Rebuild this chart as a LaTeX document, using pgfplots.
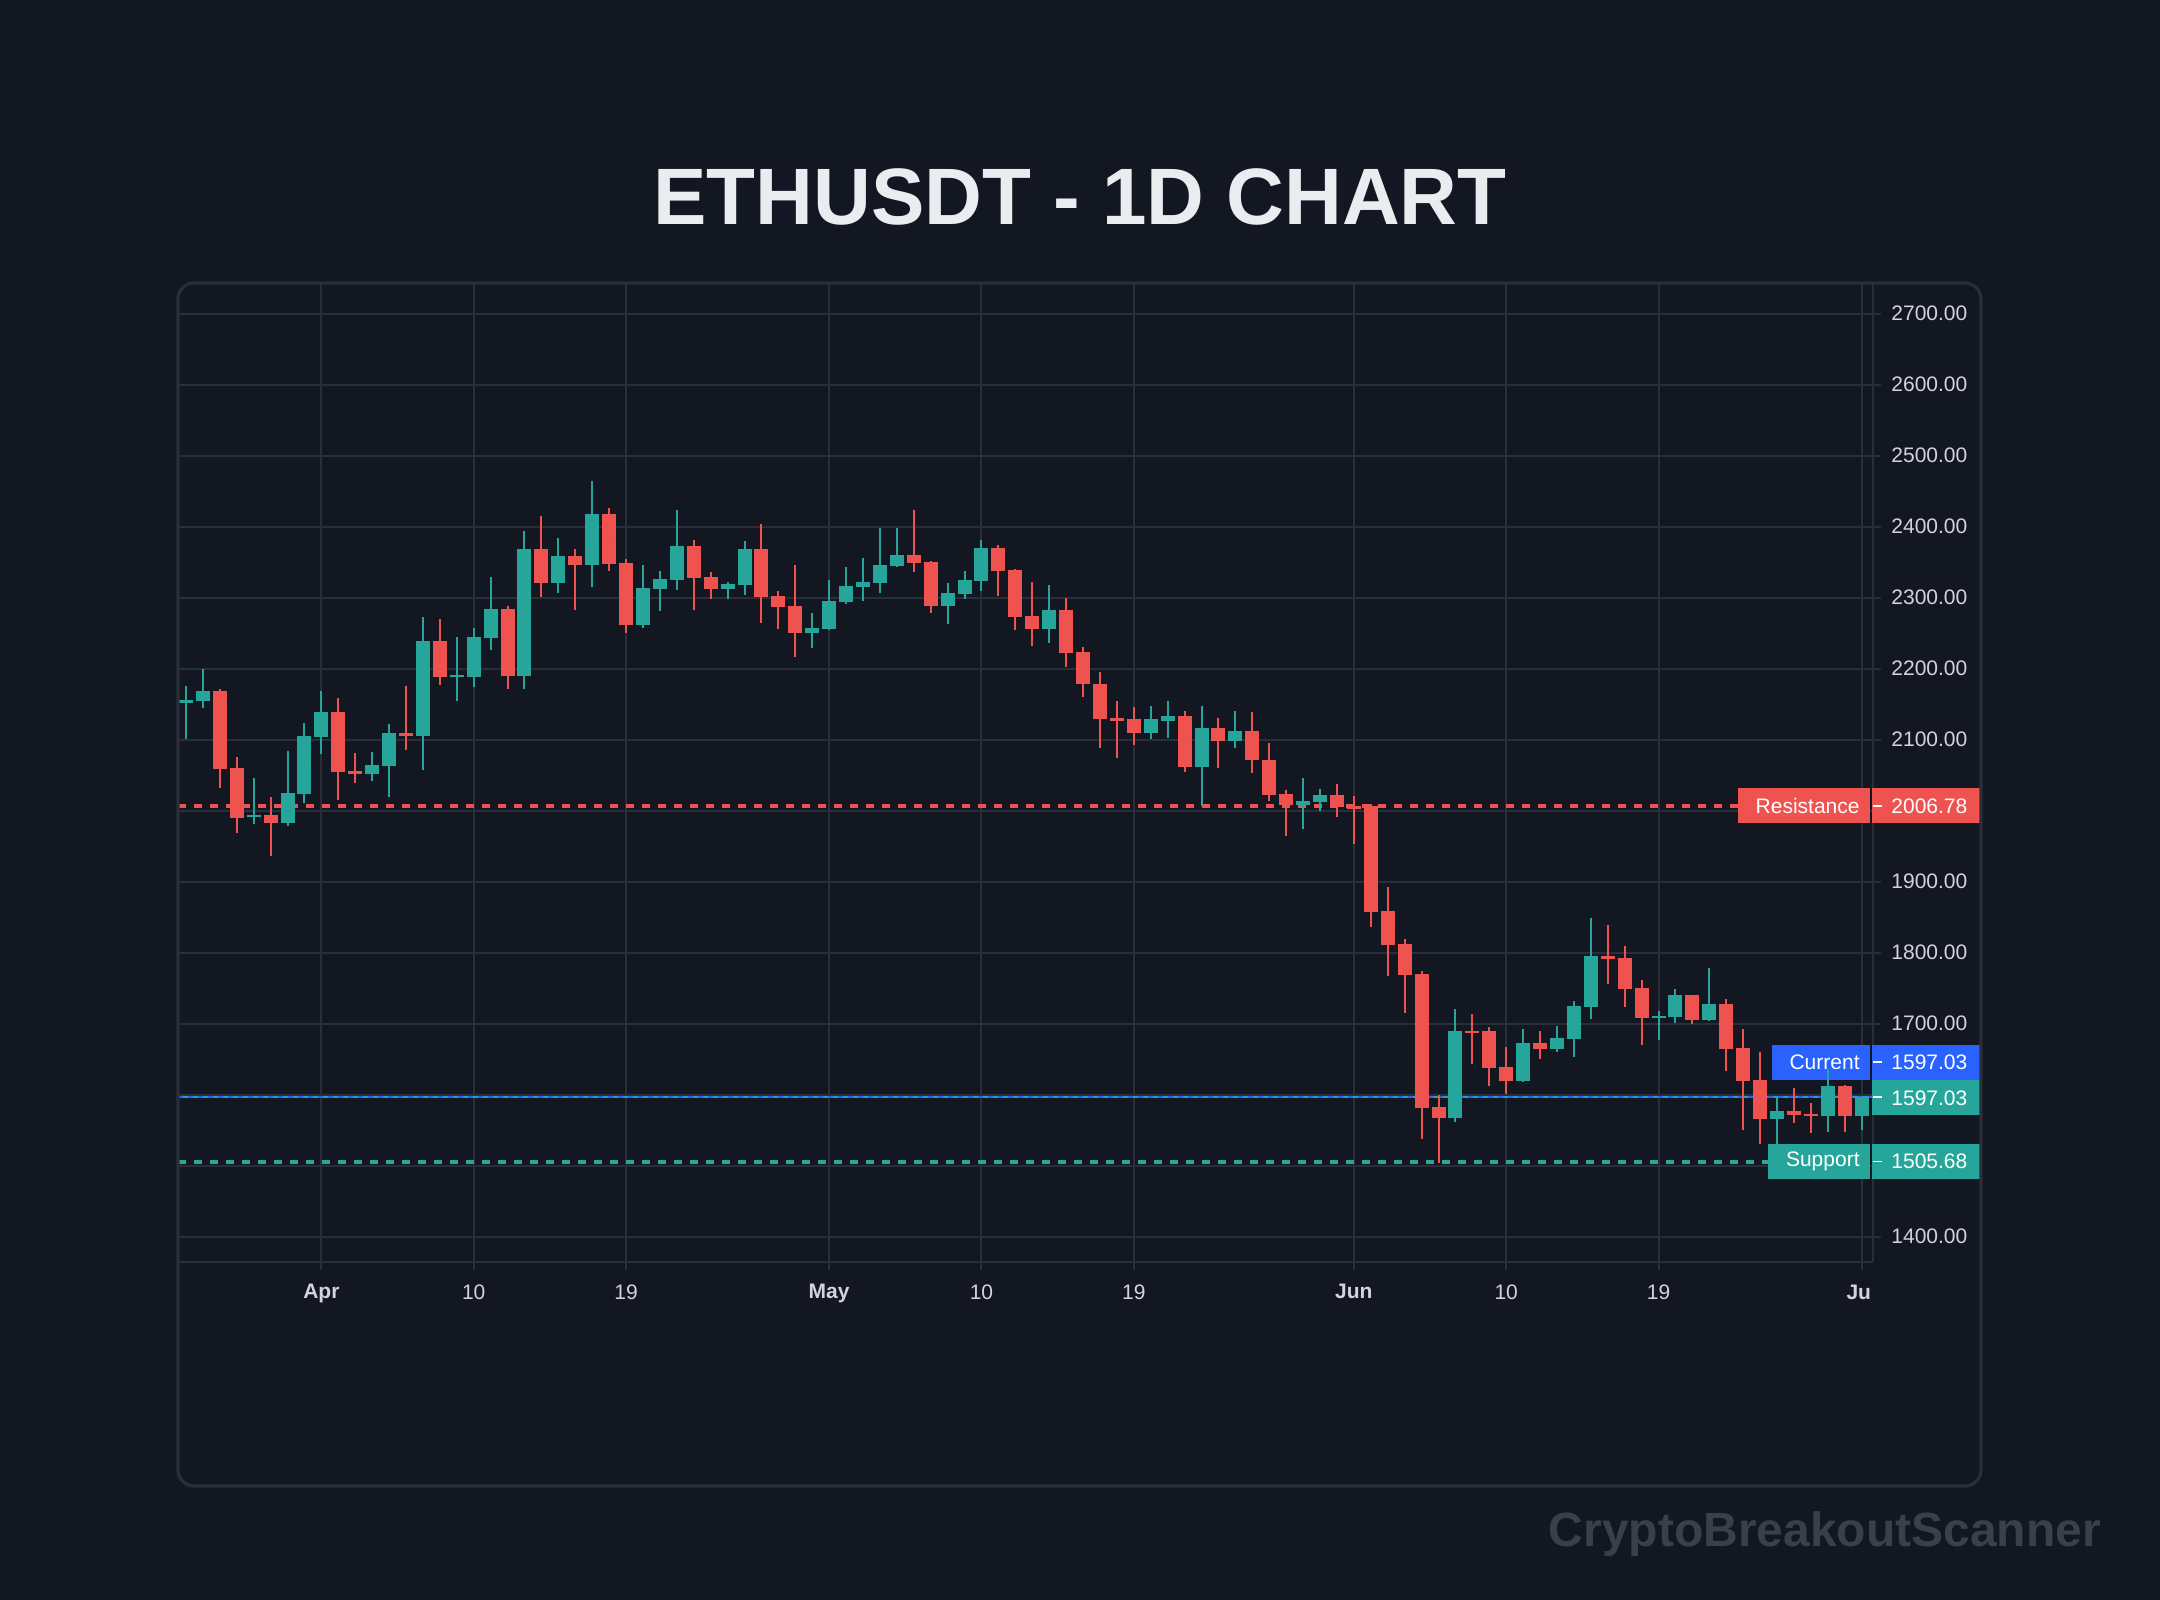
\documentclass[border=0pt]{standalone}
\usepackage{pgfplots}
\pgfplotsset{compat=1.18}
\usepackage{pgfplotstable}
\usepackage{fontspec}
\setmainfont{Liberation Sans}
\definecolor{bg}{HTML}{131722}
\definecolor{gridc}{HTML}{2A2E39}
\definecolor{cred}{HTML}{EF5350}
\definecolor{cgreen}{HTML}{26A69A}
\definecolor{cblue}{HTML}{2962FF}
\definecolor{tickc}{HTML}{D1D4DC}
\definecolor{titlec}{HTML}{EAECEF}
\definecolor{wmark}{HTML}{3B3F4B}

\pgfplotstableread{
d o h l c
-8 2151 2175 2101 2156
-7 2155 2199 2145 2169
-4 1991 2046 1981 1994
-2 1983 2084 1978 2025
-1 2024 2124 2011 2105
0 2104 2168 2080 2139
3 2052 2083 2042 2065
4 2063 2122 2019 2110
6 2105 2273 2057 2239
8 2188 2244 2154 2190
9 2188 2257 2174 2244
10 2243 2329 2226 2284
12 2189 2394 2172 2369
14 2321 2384 2306 2359
16 2346 2465 2315 2418
19 2261 2346 2257 2313
20 2312 2337 2281 2326
21 2325 2424 2311 2373
24 2312 2322 2298 2319
25 2318 2380 2304 2369
29 2250 2278 2229 2257
30 2256 2325 2254 2295
31 2294 2343 2291 2316
32 2315 2356 2295 2322
33 2321 2398 2306 2346
34 2345 2398 2343 2360
37 2288 2321 2263 2306
38 2305 2337 2298 2325
39 2323 2381 2309 2370
43 2256 2318 2236 2282
49 2109 2147 2101 2129
50 2127 2155 2102 2133
52 2062 2148 2006 2116
54 2098 2140 2089 2112
58 2008 2046 1974 2013
59 2012 2030 1999 2022
67 1567 1721 1562 1690
71 1619 1693 1618 1673
73 1664 1697 1660 1680
74 1678 1732 1653 1725
75 1724 1849 1707 1795
79 1708 1718 1677 1711
80 1709 1749 1701 1740
82 1705 1778 1704 1728
86 1566 1595 1531 1577
89 1570 1636 1547 1612
91 1570 1598 1550 1597.03
}\greendata

\pgfplotstableread{
d o h l c
-6 2169 2172 2032 2059
-5 2060 2076 1968 1990
-3 1994 2019 1936 1983
1 2139 2159 2015 2055
2 2056 2081 2039 2052
5 2110 2175 2086 2105
7 2239 2270 2177 2188
11 2284 2288 2172 2189
13 2369 2415 2301 2321
15 2359 2369 2282 2346
17 2418 2426 2337 2347
18 2349 2354 2250 2261
22 2373 2381 2282 2328
23 2329 2336 2298 2312
26 2369 2404 2264 2301
27 2302 2309 2256 2287
28 2288 2346 2217 2250
35 2360 2424 2336 2349
36 2350 2352 2278 2288
40 2370 2374 2302 2337
41 2339 2340 2254 2273
42 2274 2322 2232 2256
44 2282 2299 2202 2222
45 2223 2230 2160 2178
46 2179 2196 2089 2129
47 2130 2155 2074 2127
48 2129 2146 2092 2109
51 2133 2140 2055 2062
53 2116 2130 2060 2098
55 2112 2139 2053 2071
56 2072 2096 2013 2022
57 2023 2029 1964 2008
60 2022 2037 1991 2005
61 2006 2020 1953 2003
62 2006 2009 1836 1857
63 1859 1893 1767 1811
64 1812 1819 1715 1769
65 1770 1774 1538 1581
66 1583 1600 1504 1567
68 1690 1714 1643 1688
69 1690 1695 1612 1638
70 1639 1667 1601 1619
72 1673 1690 1650 1664
76 1795 1839 1756 1791
77 1793 1809 1724 1749
78 1750 1762 1670 1708
81 1740 1741 1700 1705
83 1728 1735 1633 1664
84 1666 1693 1550 1619
85 1621 1660 1531 1566
87 1577 1609 1560 1571
88 1573 1588 1546 1570
90 1612 1614 1547 1570
}\reddata

\pgfplotsset{
  wick/.style={only marks, mark=*, mark size=0pt, mark options={draw=none, fill=none}, forget plot,
    error bars/.cd, y dir=both, y explicit, error mark=none,
    error bar style={line width=1pt, draw=#1, solid}},
  body/.style={only marks, mark=*, mark size=0pt, mark options={draw=none, fill=none}, forget plot,
    error bars/.cd, y dir=both, y explicit, error mark=none,
    error bar style={line width=7pt, draw=#1, solid}},
}

\begin{document}
\begin{tikzpicture}
\fill[bg] (0,0) rectangle (1080pt,800pt);
\node[font=\fontsize{40}{45}\selectfont\bfseries, text=titlec] at (540pt,701.75pt) {ETHUSDT - 1D CHART};
\begin{axis}[
  at={(89pt,168.75pt)}, anchor=south west, scale only axis,
  width=847.5pt, height=489.75pt,
  xmin=-8.47, xmax=91.67, ymin=1363.7, ymax=2743.2,
  axis x line*=bottom, axis y line*=right,
  axis line style={gridc, line width=1pt},
  xtick={0,9,18,30,39,48,61,70,79,91},
  xticklabels={\textbf{Apr},10,19,\textbf{May},10,19,\textbf{Jun},10,19,\textbf{Ju}\phantom{\textbf{l}}},
  ytick={1400,1500,...,2700},
  yticklabels={1400.00,,,1700.00,1800.00,1900.00,,2100.00,2200.00,2300.00,2400.00,2500.00,2600.00,2700.00},
  grid=major, major grid style={gridc, line width=1pt},
  tick align=outside, major tick length=4pt, tick style={gridc, line width=1pt},
  ticklabel style={font=\fontsize{10.5}{12}\selectfont, text=tickc},
  yticklabel style={anchor=west, inner sep=0pt, xshift=5pt},
  xticklabel style={anchor=north, inner sep=0pt, yshift=-6.75pt},
]
\coordinate (pres) at (axis cs:91.67,2006.78);
\coordinate (pcur) at (axis cs:91.67,1597.03);
\coordinate (psup) at (axis cs:91.67,1505.68);

\addplot[cred, line width=1.85pt, dash pattern=on 4pt off 4pt, forget plot] coordinates {(-8.47,2006.78) (91.67,2006.78)};
\addplot[cgreen, line width=1.85pt, dash pattern=on 4pt off 4pt, forget plot] coordinates {(-8.47,1505.68) (91.67,1505.68)};
\addplot[cblue, line width=0.8pt, dash pattern=on 2.5pt off 2.5pt, forget plot] coordinates {(-8.47,1597.03) (91.67,1597.03)};
\addplot[cgreen, line width=0.8pt, dash pattern=on 2.5pt off 2.5pt, dash phase=2.5pt, forget plot] coordinates {(-8.47,1597.03) (91.67,1597.03)};

\node[fill=cred, text=white, anchor=east, minimum height=17.5pt, inner ysep=0pt, inner xsep=5pt, font=\fontsize{10.5}{12}\selectfont] at ([xshift=-1.5pt]axis cs:91.67,2006.78) {\hspace{4pt}Resistance};
\node[fill=cblue, text=white, anchor=east, minimum height=17.5pt, inner ysep=0pt, inner xsep=5pt, font=\fontsize{10.5}{12}\selectfont] at ([xshift=-1.5pt,yshift=17.3pt]axis cs:91.67,1597.03) {\hspace{4pt}Current};
\node[fill=cgreen, text=white, anchor=east, minimum height=17.5pt, inner ysep=0pt, inner xsep=5pt, font=\fontsize{10.5}{12}\selectfont] at ([xshift=-1.5pt]axis cs:91.67,1505.68) {\hspace{4pt}Support};

\addplot[wick=cgreen] table[x=d, y expr={(\thisrow{h}+\thisrow{l})/2}, y error plus expr={(\thisrow{h}-\thisrow{l})/2}, y error minus expr={(\thisrow{h}-\thisrow{l})/2}] {\greendata};
\addplot[body=cgreen] table[x=d, y expr={(\thisrow{o}+\thisrow{c})/2}, y error plus expr={max(abs(\thisrow{c}-\thisrow{o})/2,1.4)}, y error minus expr={max(abs(\thisrow{c}-\thisrow{o})/2,1.4)}] {\greendata};
\addplot[wick=cred] table[x=d, y expr={(\thisrow{h}+\thisrow{l})/2}, y error plus expr={(\thisrow{h}-\thisrow{l})/2}, y error minus expr={(\thisrow{h}-\thisrow{l})/2}] {\reddata};
\addplot[body=cred] table[x=d, y expr={(\thisrow{o}+\thisrow{c})/2}, y error plus expr={max(abs(\thisrow{c}-\thisrow{o})/2,1.4)}, y error minus expr={max(abs(\thisrow{c}-\thisrow{o})/2,1.4)}] {\reddata};
\end{axis}

% price scale value boxes
\fill[cred] ([xshift=-0.5pt,yshift=-8.75pt]pres) rectangle ([xshift=53.5pt,yshift=8.75pt]pres);
\fill[cblue] ([xshift=-0.5pt,yshift=8.55pt]pcur) rectangle ([xshift=53.5pt,yshift=26.05pt]pcur);
\fill[cgreen] ([xshift=-0.5pt,yshift=-9.25pt]pcur) rectangle ([xshift=53.5pt,yshift=8.25pt]pcur);
\fill[cgreen] ([xshift=-0.5pt,yshift=-8.75pt]psup) rectangle ([xshift=53.5pt,yshift=8.75pt]psup);
\begin{scope}[every node/.style={anchor=west, text=white, inner sep=0pt, font=\fontsize{10.5}{12}\selectfont}]
\node at ([xshift=9pt]pres) {2006.78};
\node at ([xshift=9pt,yshift=17.3pt]pcur) {1597.03};
\node at ([xshift=9pt,yshift=-0.5pt]pcur) {1597.03};
\node at ([xshift=9pt]psup) {1505.68};
\end{scope}
\draw[white, line width=0.8pt] (pres) -- ++(4.5pt,0);
\draw[white, line width=0.8pt] ([yshift=17.3pt]pcur) -- ++(4.5pt,0);
\draw[white, line width=0.8pt] (pcur) -- ++(4.5pt,0);
\draw[white, line width=0.8pt] (psup) -- ++(4.5pt,0);

\draw[gridc, line width=1.6pt, rounded corners=8pt] (89pt,57pt) rectangle (990.5pt,658.5pt);

\node[anchor=base east, font=\fontsize{24}{28}\selectfont\bfseries, text=wmark] at (1054pt,26.65pt) {CryptoBreakoutScanner};

\pgfresetboundingbox
\useasboundingbox (0,0) rectangle (1080pt,800pt);
\end{tikzpicture}
\end{document}
